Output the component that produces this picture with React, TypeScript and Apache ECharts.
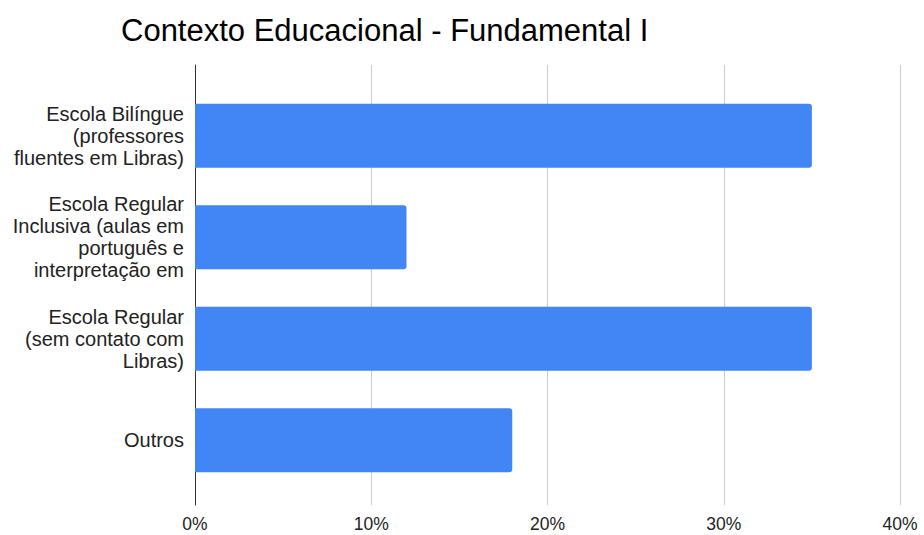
import React, { useEffect, useRef } from "react";
import * as echarts from "echarts";

const categories = [
  "Escola Bilíngue\n(professores\nfluentes em Libras)",
  "Escola Regular\nInclusiva (aulas em\nportuguês e\ninterpretação em",
  "Escola Regular\n(sem contato com\nLibras)",
  "Outros",
];
const values = [35, 12, 35, 18];
const xTicks = { min: 0, max: 40, interval: 10 };
const title = "Contexto Educacional - Fundamental I";

export default function App() {
  const ref = useRef<HTMLDivElement>(null);
  useEffect(() => {
    if (!ref.current) return;
    const chart = echarts.init(ref.current, null, { renderer: "svg" });
    const font = "Arial, 'Liberation Sans', sans-serif";
    chart.setOption({
      animation: false,
      backgroundColor: "#ffffff",
      title: {
        text: title,
        left: 116,
        top: 10,
        textStyle: { fontSize: 31, fontWeight: "normal", color: "#000000", fontFamily: font },
      },
      grid: [
        { left: 195, right: 24, top: 65, bottom: 30 },
        { left: 195, right: 24, top: 85, bottom: 44 },
      ],
      xAxis: [
        {
          gridIndex: 0,
          type: "value",
          min: xTicks.min,
          max: xTicks.max,
          interval: xTicks.interval,
          axisLine: { show: false },
          axisTick: { show: false },
          splitLine: { show: true, lineStyle: { color: "#cccccc", width: 1 } },
          axisLabel: {
            formatter: "{value}%",
            fontSize: 17.5,
            color: "#222222",
            fontFamily: font,
            margin: 10,
            showMaxLabel: true,
          },
        },
        {
          gridIndex: 1,
          type: "value",
          min: xTicks.min,
          max: xTicks.max,
          show: false,
        },
      ],
      yAxis: [
        {
          gridIndex: 0,
          type: "value",
          min: 0,
          max: 1,
          axisLabel: { show: false },
          axisTick: { show: false },
          splitLine: { show: false },
          axisLine: { show: true, lineStyle: { color: "#333333", width: 1 } },
        },
        {
          gridIndex: 1,
          type: "category",
          inverse: true,
          data: categories,
          axisLine: { show: false },
          axisTick: { show: false },
          axisLabel: {
            fontSize: 20,
            lineHeight: 22,
            color: "#222222",
            fontFamily: font,
            align: "right",
            margin: 11,
          },
        },
      ],
      series: [
        {
          type: "bar",
          xAxisIndex: 1,
          yAxisIndex: 1,
          data: values,
          barWidth: 64,
          itemStyle: { color: "#4285f4", borderRadius: [0, 3, 3, 0] },
        },
      ],
    });
    return () => chart.dispose();
  }, []);
  return (
    <div
      ref={ref}
      style={{ position: "fixed", left: 0, top: 0, width: 924, height: 535 }}
    />
  );
}
